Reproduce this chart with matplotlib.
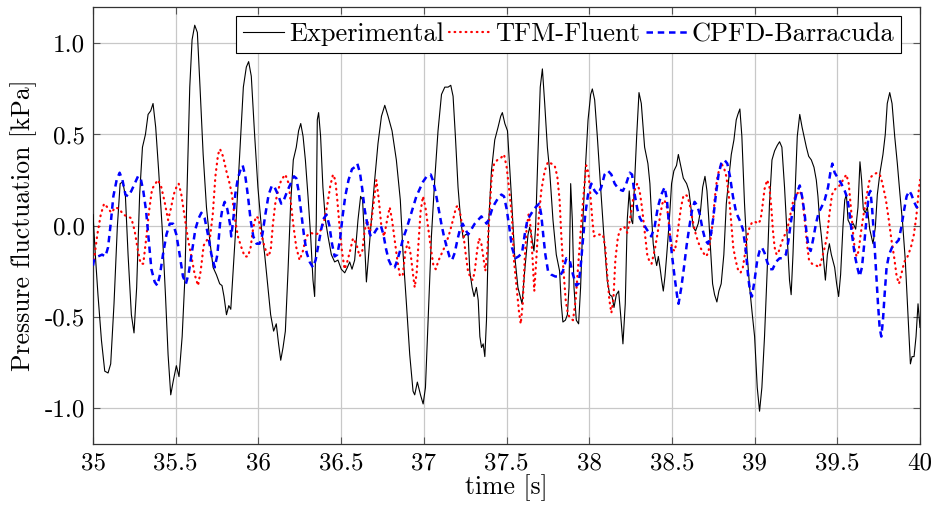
import matplotlib
matplotlib.use("Agg")
import matplotlib.pyplot as plt
import numpy as np

# ---------------- data ----------------
exp_t = [35.000, 35.014, 35.030, 35.051, 35.071, 35.091, 35.107, 35.127, 35.147, 35.164, 35.180, 35.196, 35.212, 35.232, 35.248, 35.264, 35.282, 35.299, 35.317, 35.333, 35.349, 35.363, 35.379, 35.397, 35.418, 35.438, 35.454, 35.470, 35.486, 35.504, 35.520, 35.539, 35.555, 35.569, 35.585, 35.599, 35.615, 35.631, 35.647, 35.666, 35.686, 35.706, 35.726, 35.746, 35.766, 35.780, 35.792, 35.807, 35.821, 35.833,
         35.844, 35.860, 35.876, 35.893, 35.909, 35.927, 35.941, 35.957, 35.977, 35.997, 36.018, 36.038, 36.058, 36.074, 36.092, 36.108, 36.122, 36.135, 36.149, 36.163, 36.179, 36.195, 36.211, 36.229, 36.243, 36.256, 36.270, 36.284, 36.300, 36.316, 36.330, 36.340, 36.350, 36.356, 36.364, 36.376, 36.390, 36.405, 36.421, 36.441, 36.461, 36.481, 36.501, 36.522, 36.538, 36.552, 36.566, 36.582, 36.602, 36.618, 36.630, 36.643, 36.653,
         36.663, 36.683, 36.703, 36.723, 36.744, 36.764, 36.784, 36.808, 36.834, 36.858, 36.875, 36.895, 36.915, 36.935, 36.945, 36.961, 36.980, 36.996, 37.010, 37.026, 37.046, 37.066, 37.086, 37.107, 37.127, 37.147, 37.163, 37.177, 37.191, 37.207, 37.223, 37.238, 37.252, 37.268, 37.278, 37.292, 37.304, 37.318, 37.329, 37.339, 37.349, 37.359, 37.369, 37.379, 37.393, 37.409, 37.429, 37.449, 37.465, 37.475, 37.490, 37.506,
         37.529, 37.549, 37.569, 37.594, 37.610, 37.630, 37.640, 37.650, 37.666, 37.676, 37.690, 37.704, 37.717, 37.731, 37.747, 37.761, 37.781, 37.801, 37.821, 37.831, 37.841, 37.856, 37.868, 37.878, 37.888, 37.898, 37.908, 37.922, 37.936, 37.948, 37.962, 37.976, 37.993, 38.009, 38.019, 38.033, 38.049, 38.069, 38.089, 38.109, 38.124, 38.138, 38.150, 38.164, 38.178, 38.190, 38.204, 38.218, 38.230, 38.242, 38.255, 38.263, 38.275, 38.287, 38.301, 38.315, 38.335, 38.355,
         38.367, 38.377, 38.387, 38.397, 38.408, 38.418, 38.428, 38.438, 38.448, 38.458, 38.468, 38.478, 38.488, 38.498, 38.512, 38.528, 38.539, 38.553, 38.569, 38.589, 38.603, 38.615, 38.629, 38.643, 38.659, 38.673, 38.686, 38.700, 38.712, 38.722, 38.734, 38.746,
         38.758, 38.772, 38.784, 38.798, 38.814, 38.829, 38.843, 38.859, 38.875, 38.889, 38.899, 38.911, 38.923, 38.939, 38.955, 38.970, 38.984, 39.000, 39.016, 39.030, 39.044, 39.060, 39.076, 39.090, 39.105, 39.121, 39.137, 39.151, 39.165, 39.181, 39.197, 39.211, 39.221,
         39.232, 39.246, 39.258, 39.273, 39.287, 39.299, 39.313, 39.327, 39.343, 39.359, 39.373, 39.383, 39.393, 39.404, 39.414, 39.428, 39.440, 39.452, 39.464, 39.484, 39.496, 39.508, 39.520, 39.534, 39.545, 39.555, 39.565, 39.581, 39.597, 39.611, 39.625, 39.637, 39.647, 39.657, 39.669, 39.682, 39.696, 39.716, 39.730, 39.742, 39.758, 39.776, 39.790, 39.802, 39.817, 39.831, 39.847, 39.863, 39.879, 39.895, 39.911, 39.927, 39.942, 39.952, 39.964, 39.976, 39.988, 40.000]
exp_v = [0.06, -0.16, -0.38, -0.63, -0.80, -0.81, -0.76, -0.43, -0.01, 0.23, 0.24, 0.16, -0.16, -0.49, -0.59, -0.34, 0.17, 0.43, 0.50, 0.61, 0.63, 0.67, 0.54, 0.30, -0.01, -0.38, -0.71, -0.93, -0.85, -0.77, -0.83, -0.61, -0.30, 0.21, 0.76, 1.02, 1.10, 1.06, 0.76, 0.39, 0.10, -0.08, -0.23, -0.27, -0.32, -0.33, -0.39, -0.49, -0.44, -0.46,
         -0.30, -0.06, 0.21, 0.49, 0.76, 0.87, 0.90, 0.82, 0.50, 0.21, -0.01, -0.16, -0.34, -0.49, -0.58, -0.54, -0.65, -0.74, -0.67, -0.58, -0.25, 0.12, 0.36, 0.43, 0.52, 0.56, 0.49, 0.36, 0.16, -0.06, -0.30, -0.39, 0.03, 0.58, 0.62, 0.49, 0.21, 0.03, -0.06, -0.16, -0.20, -0.19, -0.24, -0.26, -0.23, -0.20, -0.24, -0.19, 0.03, 0.16, 0.14, -0.12, -0.31,
         -0.20, 0.03, 0.25, 0.45, 0.60, 0.66, 0.60, 0.52, 0.36, 0.14, -0.16, -0.43, -0.71, -0.91, -0.93, -0.86, -0.93, -0.98, -0.89, -0.52, -0.06, 0.25, 0.52, 0.72, 0.76, 0.76, 0.77, 0.71, 0.49, 0.21, 0.03, -0.07, -0.05, -0.05, -0.25, -0.34, -0.39, -0.34, -0.41, -0.61, -0.67, -0.65, -0.72, -0.52, 0.03, 0.30, 0.47, 0.54, 0.60, 0.62, 0.56, 0.52,
         0.17, -0.16, -0.34, -0.43, -0.25, -0.05, -0.01, -0.05, -0.14, -0.01, 0.39, 0.76, 0.86, 0.67, 0.43, 0.30, 0.03, -0.16, -0.25, -0.43, -0.53, -0.52, -0.49, -0.34, 0.23, 0.03, -0.34, -0.52, -0.54, -0.34, 0.03, 0.30, 0.58, 0.72, 0.75, 0.69, 0.49, 0.21, -0.06, -0.30, -0.38, -0.39, -0.45, -0.38, -0.36, -0.49, -0.65, -0.43, 0.03, 0.19, 0.03, 0.01, 0.25, 0.49, 0.73, 0.67, 0.43, 0.34,
         0.23, 0.05, -0.10, -0.17, -0.22, -0.17, -0.23, -0.30, -0.36, -0.28, -0.17, -0.05, 0.08, 0.23, 0.30, 0.33, 0.39, 0.33, 0.26, 0.23, 0.19, 0.10, -0.01, -0.03, 0.01, 0.08, 0.21, 0.27, 0.19, 0.05, -0.14, -0.32,
         -0.38, -0.42, -0.36, -0.32, -0.16, 0.12, 0.25, 0.39, 0.47, 0.58, 0.61, 0.64, 0.49, 0.12, -0.16, -0.34, -0.47, -0.61, -0.89, -1.02, -0.89, -0.61, -0.25, 0.12, 0.36, 0.41, 0.44, 0.46, 0.43, 0.21, -0.06, -0.30, -0.38,
         -0.16, 0.21, 0.49, 0.61, 0.54, 0.49, 0.43, 0.38, 0.36, 0.32, 0.25, 0.16, 0.03, -0.06, -0.16, -0.30, -0.16, -0.10, -0.16, -0.23, -0.32, -0.39, -0.27, -0.01, 0.14, 0.17, 0.03, 0.00, 0.01, -0.02, 0.10, 0.35, 0.25, 0.09, 0.07, 0.10, -0.02, -0.10, -0.01, 0.17, 0.29, 0.39, 0.50, 0.67, 0.73, 0.67, 0.49, 0.34, 0.17, 0.01, -0.19, -0.49, -0.76, -0.72, -0.72, -0.61, -0.43, -0.56]

tfm_t = [35.006, 35.026, 35.047, 35.067, 35.087, 35.111, 35.135, 35.161, 35.182, 35.208, 35.232, 35.252, 35.272, 35.288, 35.304, 35.323, 35.339, 35.357, 35.377, 35.393, 35.413, 35.433, 35.454, 35.470, 35.488, 35.504, 35.518, 35.534, 35.554, 35.575, 35.595, 35.615, 35.635, 35.651, 35.669, 35.689, 35.708, 35.724, 35.740, 35.756, 35.768, 35.786, 35.806, 35.826, 35.840,
         35.856, 35.876, 35.897, 35.917, 35.937, 35.953, 35.969, 35.985, 36.001, 36.018, 36.038, 36.058, 36.074, 36.088, 36.102, 36.118, 36.138, 36.163, 36.183, 36.199, 36.213, 36.229, 36.249, 36.269, 36.289, 36.316, 36.344, 36.370, 36.396, 36.416, 36.435, 36.451, 36.465, 36.477, 36.491, 36.505, 36.521, 36.537, 36.554, 36.572, 36.592, 36.612, 36.628, 36.642, 36.658,
         36.673, 36.687, 36.699, 36.713, 36.727, 36.744, 36.760, 36.778, 36.794, 36.808, 36.824, 36.840, 36.856, 36.873, 36.889, 36.905, 36.921, 36.935, 36.945, 36.957, 36.969, 36.981, 36.995, 37.010, 37.026, 37.042, 37.058, 37.072, 37.090, 37.110, 37.135, 37.159, 37.179, 37.195, 37.207, 37.221, 37.237, 37.251, 37.267, 37.284, 37.296, 37.308, 37.322, 37.334, 37.348, 37.362, 37.372, 37.384, 37.396, 37.409, 37.425, 37.445, 37.465, 37.485, 37.501, 37.517, 37.533,
         37.545, 37.561, 37.575, 37.586, 37.598, 37.610, 37.622, 37.634, 37.646, 37.658, 37.668, 37.680, 37.694, 37.710, 37.731, 37.751, 37.771, 37.791, 37.807, 37.821, 37.831, 37.843, 37.858, 37.872, 37.888, 37.902, 37.918, 37.936, 37.952, 37.968, 37.982, 37.995, 38.007, 38.019, 38.029, 38.043, 38.063, 38.083, 38.097, 38.109, 38.122, 38.134, 38.146, 38.158, 38.174, 38.194, 38.214, 38.230, 38.246, 38.263, 38.279, 38.291, 38.305, 38.319, 38.335, 38.351, 38.365,
         38.377, 38.397, 38.414, 38.428, 38.442, 38.454, 38.468, 38.478, 38.488, 38.502, 38.518, 38.532, 38.543, 38.555, 38.569, 38.581, 38.595, 38.609, 38.623, 38.639, 38.655, 38.671, 38.690, 38.706, 38.720, 38.736, 38.750,
         38.758, 38.772, 38.784, 38.798, 38.814, 38.829, 38.841, 38.851, 38.861, 38.871, 38.885, 38.899, 38.915, 38.929, 38.941, 38.955, 38.970, 38.986, 39.004, 39.022, 39.036, 39.048, 39.060, 39.076, 39.090, 39.101, 39.111, 39.121, 39.133, 39.147, 39.161, 39.177, 39.191, 39.205,
         39.232, 39.252, 39.273, 39.287, 39.303, 39.317, 39.329, 39.347, 39.373, 39.393, 39.410, 39.424, 39.438, 39.452, 39.468, 39.488, 39.514, 39.541, 39.555, 39.569, 39.587, 39.597, 39.607, 39.617, 39.629, 39.641, 39.657, 39.677, 39.697, 39.718, 39.742, 39.762, 39.778, 39.794, 39.810, 39.826, 39.843, 39.859, 39.873, 39.889, 39.905, 39.925, 39.945, 39.963, 39.979, 39.992, 40.000]
tfm_v = [-0.19, -0.05, 0.06, 0.12, 0.10, 0.07, 0.10, 0.09, 0.06, 0.05, 0.04, -0.03, -0.14, -0.21, -0.21, -0.06, 0.08, 0.20, 0.23, 0.25, 0.21, 0.13, 0.03, 0.09, 0.17, 0.21, 0.23, 0.17, 0.05, -0.08, -0.17, -0.27, -0.33, -0.25, -0.11, -0.08, -0.06, 0.06, 0.27, 0.39, 0.42, 0.38, 0.30, 0.23, 0.17,
         0.05, -0.06, -0.12, -0.17, -0.17, -0.12, -0.01, 0.05, 0.04, -0.05, -0.12, -0.17, -0.14, 0.01, 0.12, 0.19, 0.25, 0.28, 0.23, 0.10, -0.01, -0.12, -0.19, -0.14, -0.06, -0.04, -0.05, -0.04, 0.02, 0.11, 0.22, 0.28, 0.25, 0.14, -0.01, -0.14, -0.24, -0.20, -0.14, -0.07, -0.10, -0.17, -0.14, -0.03, 0.03,
         -0.05, 0.05, 0.14, 0.25, 0.15, -0.01, -0.06, 0.03, 0.10, 0.03, -0.08, -0.19, -0.28, -0.27, -0.14, -0.09, -0.16, -0.27, -0.34, -0.26, -0.08, 0.08, 0.16, 0.10, -0.01, -0.12, -0.22, -0.24, -0.19, -0.15, -0.10, -0.03, 0.04, 0.10, 0.11, 0.06, -0.03, -0.14, -0.25, -0.29, -0.30, -0.25, -0.14, -0.07, -0.10, -0.19, -0.25, -0.14, 0.05, 0.25, 0.34, 0.36, 0.37, 0.39, 0.32, 0.19, 0.05,
         -0.19, -0.34, -0.47, -0.54, -0.43, -0.19, -0.01, 0.06, -0.01, -0.19, -0.36, -0.19, 0.03, 0.19, 0.30, 0.35, 0.34, 0.33, 0.27, 0.14, -0.05, -0.23, -0.41, -0.49, -0.51, -0.52, -0.41, -0.19, 0.01, 0.19, 0.33, 0.29, 0.17, 0.03, -0.06, -0.05, -0.05, -0.05, -0.12, -0.27, -0.41, -0.48, -0.41, -0.19, -0.06, -0.01, -0.01, -0.04, 0.03, 0.13, 0.21, 0.23, 0.19, 0.10, -0.03, -0.16, -0.20,
         -0.21, -0.13, -0.04, 0.05, 0.12, 0.14, 0.11, 0.05, -0.05, -0.13, -0.14, -0.06, 0.02, 0.10, 0.16, 0.17, 0.16, 0.11, 0.04, -0.03, -0.08, -0.12, -0.15, -0.17, -0.15, -0.06, 0.04,
         0.14, 0.25, 0.30, 0.34, 0.32, 0.27, 0.19, 0.10, -0.01, -0.12, -0.19, -0.24, -0.26, -0.23, -0.16, -0.06, -0.01, 0.02, 0.02, 0.01, 0.03, 0.11, 0.20, 0.25, 0.21, 0.10, -0.03, -0.12, -0.16, -0.14, -0.10, -0.06, -0.04, 0.01,
         0.13, 0.17, 0.19, 0.16, 0.03, -0.10, -0.19, -0.21, -0.22, -0.23, -0.17, -0.12, -0.06, 0.06, 0.17, 0.20, 0.22, 0.26, 0.28, 0.23, 0.05, -0.06, -0.14, -0.17, -0.14, -0.05, 0.05, 0.16, 0.26, 0.28, 0.29, 0.27, 0.21, 0.14, 0.04, -0.07, -0.17, -0.28, -0.32, -0.26, -0.20, -0.17, -0.12, -0.05, 0.06, 0.19, 0.25]

cpfd_t = [35.000, 35.006, 35.030, 35.055, 35.075, 35.091, 35.107, 35.123, 35.143, 35.161, 35.178, 35.196, 35.212, 35.232, 35.252, 35.272, 35.288, 35.304, 35.321, 35.337, 35.353, 35.373, 35.389, 35.405, 35.423, 35.444, 35.464, 35.484, 35.504, 35.524, 35.544, 35.562, 35.579, 35.599, 35.619, 35.639, 35.655, 35.675, 35.695, 35.716, 35.736, 35.752, 35.768, 35.782, 35.796, 35.812, 35.828,
          35.836, 35.850, 35.860, 35.876, 35.893, 35.905, 35.921, 35.937, 35.953, 35.969, 35.989, 36.007, 36.024, 36.042, 36.062, 36.082, 36.098, 36.118, 36.138, 36.154, 36.175, 36.195, 36.215, 36.229, 36.243, 36.259, 36.275, 36.292, 36.310, 36.330, 36.346, 36.364, 36.380, 36.396, 36.412, 36.429, 36.445, 36.461, 36.477, 36.493, 36.509, 36.525, 36.545, 36.566, 36.582, 36.598, 36.614, 36.628, 36.642, 36.658,
          36.679, 36.695, 36.715, 36.740, 36.756, 36.772, 36.788, 36.808, 36.824, 36.840, 36.856, 36.875, 36.895, 36.915, 36.935, 36.955, 36.975, 36.995, 37.018, 37.042, 37.058, 37.074, 37.090, 37.106, 37.122, 37.139, 37.155, 37.171, 37.187, 37.203, 37.219, 37.235, 37.251, 37.268, 37.288, 37.308, 37.328, 37.348, 37.364, 37.380, 37.396, 37.413, 37.429, 37.449, 37.469, 37.485, 37.501, 37.517, 37.533,
          37.553, 37.573, 37.594, 37.610, 37.626, 37.646, 37.666, 37.686, 37.698, 37.710, 37.723, 37.735, 37.751, 37.771, 37.795, 37.821, 37.841, 37.862, 37.882, 37.902, 37.922, 37.936, 37.948, 37.962, 37.976, 37.993, 38.013, 38.033, 38.053, 38.073, 38.093, 38.114, 38.134, 38.154, 38.178, 38.204, 38.224, 38.245, 38.259, 38.275, 38.291, 38.307, 38.327, 38.347,
          38.375, 38.395, 38.415, 38.436, 38.456, 38.470, 38.484, 38.500, 38.516, 38.532, 38.540, 38.557, 38.573, 38.589, 38.605, 38.621, 38.637, 38.653, 38.669, 38.685, 38.702, 38.718, 38.734, 38.750, 38.766, 38.782, 38.798, 38.818, 38.835, 38.851, 38.869, 38.889, 38.909, 38.929, 38.945, 38.960, 38.972, 38.984, 39.000, 39.016, 39.030, 39.044, 39.060, 39.076, 39.093, 39.109, 39.129, 39.151, 39.171, 39.189, 39.205,
          39.218, 39.232, 39.252, 39.273, 39.287, 39.303, 39.315, 39.327, 39.339, 39.353, 39.371, 39.387, 39.404, 39.424, 39.444, 39.458, 39.470, 39.484, 39.504, 39.524, 39.545, 39.561, 39.575, 39.589, 39.605, 39.621, 39.635, 39.649, 39.663, 39.678, 39.690, 39.700, 39.710, 39.722, 39.734, 39.746, 39.756, 39.766, 39.776, 39.786, 39.798, 39.813, 39.831, 39.851, 39.871, 39.887, 39.903, 39.919, 39.935, 39.948, 39.964, 39.980, 39.996]
cpfd_v = [-0.22, -0.19, -0.17, -0.16, -0.17, -0.12, 0.01, 0.16, 0.25, 0.29, 0.25, 0.17, 0.16, 0.19, 0.23, 0.27, 0.26, 0.19, 0.08, -0.08, -0.24, -0.31, -0.33, -0.27, -0.16, -0.05, 0.01, 0.01, -0.05, -0.16, -0.28, -0.32, -0.26, -0.14, -0.02, 0.04, 0.07, 0.04, -0.05, -0.16, -0.23, -0.16, 0.01, 0.09, 0.13, 0.09, 0.01,
          -0.06, 0.05, 0.17, 0.26, 0.31, 0.33, 0.27, 0.16, 0.03, -0.06, -0.10, -0.10, -0.05, 0.06, 0.17, 0.22, 0.21, 0.17, 0.12, 0.14, 0.19, 0.23, 0.27, 0.26, 0.19, 0.07, -0.05, -0.15, -0.20, -0.23, -0.19, -0.10, -0.02, 0.04, 0.06, 0.00, -0.10, -0.17, -0.16, -0.08, 0.05, 0.16, 0.25, 0.31, 0.32, 0.34, 0.29, 0.20, 0.09, 0.01,
          -0.06, -0.05, -0.02, 0.00, -0.05, -0.13, -0.19, -0.23, -0.23, -0.19, -0.14, -0.07, -0.02, 0.04, 0.10, 0.16, 0.20, 0.24, 0.27, 0.28, 0.24, 0.17, 0.09, 0.01, -0.06, -0.12, -0.17, -0.19, -0.15, -0.08, -0.02, 0.01, -0.02, -0.05, -0.02, 0.01, 0.03, 0.05, 0.03, 0.01, 0.04, 0.09, 0.12, 0.15, 0.17, 0.16, 0.09, -0.01, -0.12,
          -0.18, -0.17, -0.15, -0.05, 0.03, 0.06, 0.09, 0.11, 0.12, 0.06, -0.06, -0.16, -0.25, -0.27, -0.28, -0.28, -0.25, -0.18, -0.19, -0.27, -0.33, -0.32, -0.23, -0.08, 0.06, 0.17, 0.23, 0.19, 0.17, 0.21, 0.28, 0.30, 0.28, 0.23, 0.20, 0.19, 0.23, 0.29, 0.28, 0.17, 0.09, 0.04, 0.01, -0.02,
          -0.06, -0.01, 0.10, 0.17, 0.21, 0.14, -0.01, -0.16, -0.28, -0.39, -0.43, -0.34, -0.23, -0.11, -0.01, 0.08, 0.13, 0.11, 0.06, -0.02, -0.08, -0.10, -0.06, 0.04, 0.17, 0.28, 0.34, 0.36, 0.34, 0.27, 0.16, 0.07, 0.03, -0.02, -0.12, -0.27, -0.36, -0.39, -0.30, -0.19, -0.14, -0.12, -0.15, -0.20, -0.24, -0.24, -0.20, -0.18, -0.18, -0.16, -0.08,
          0.01, 0.09, 0.17, 0.22, 0.16, 0.06, -0.05, -0.12, -0.14, -0.08, 0.01, 0.07, 0.10, 0.14, 0.21, 0.29, 0.34, 0.29, 0.26, 0.23, 0.19, 0.15, 0.06, -0.05, -0.16, -0.23, -0.28, -0.23, -0.10, 0.05, 0.17, 0.19, 0.10, -0.06, -0.25, -0.43, -0.56, -0.61, -0.52, -0.38, -0.23, -0.16, -0.12, -0.10, -0.08, -0.01, 0.08, 0.16, 0.19, 0.17, 0.13, 0.10, 0.11]

x_ticks = [35, 35.5, 36, 36.5, 37, 37.5, 38, 38.5, 39, 39.5, 40]
x_tick_labels = ["35", "35.5", "36", "36.5", "37", "37.5", "38", "38.5", "39", "39.5", "40"]
y_ticks = [-1.0, -0.5, 0.0, 0.5, 1.0]
y_tick_labels = ["-1.0", "-0.5", "0.0", "0.5", "1.0"]
series_labels = ["Experimental", "TFM-Fluent", "CPFD-Barracuda"]

# ---------------- figure ----------------
plt.rcParams["font.family"] = ["cmr10", "DejaVu Serif"]
plt.rcParams["mathtext.fontset"] = "cm"
plt.rcParams["axes.unicode_minus"] = False
FS_TICK = 18
FS_LABEL = 18.5
FS_LEG = 19

fig = plt.figure(figsize=(9.36, 5.07), dpi=100)
ax = fig.add_axes([93 / 936, 1 - 444 / 507, (920 - 93) / 936, (444 - 7) / 507])

ax.plot(exp_t, exp_v, color="black", lw=0.8, label=series_labels[0], zorder=3)
ax.plot(tfm_t, tfm_v, color="#ff0000", lw=1.6, linestyle=(0, (0.3, 2.2)),
        dash_capstyle="round", label=series_labels[1], zorder=4)
ax.plot(cpfd_t, cpfd_v, color="#0000ff", lw=1.8, linestyle=(0, (2.6, 1.9)),
        label=series_labels[2], zorder=5)

ax.set_xlim(35, 40)
ax.set_ylim(-1.2, 1.2)
ax.set_xticks(x_ticks)
ax.set_xticklabels(x_tick_labels, fontsize=FS_TICK)
ax.set_yticks(y_ticks)
ax.set_yticklabels(y_tick_labels, fontsize=FS_TICK)
ax.grid(True, color="#c8c8c8", lw=0.9)
ax.set_axisbelow(True)
ax.tick_params(direction="in", length=5, width=0.8, color="#555555",
               top=True, right=True, pad=6)
for s in ax.spines.values():
    s.set_color("#333333")
    s.set_linewidth(0.9)

ax.set_xlabel("time [s]", fontsize=FS_LABEL, labelpad=0)
ax.set_ylabel("Pressure fluctuation [kPa]", fontsize=FS_LABEL, labelpad=5)

leg = ax.legend(loc="upper right", bbox_to_anchor=((901 - 93) / 827, (444 - 16) / 437),
                ncol=3, fontsize=FS_LEG, frameon=True, fancybox=False, framealpha=1,
                edgecolor="black", handlelength=1.55, handletextpad=0.2,
                columnspacing=0.2, borderpad=0.25, borderaxespad=0.0)
leg.get_frame().set_linewidth(0.8)

fig.savefig("out.png", dpi=100)
